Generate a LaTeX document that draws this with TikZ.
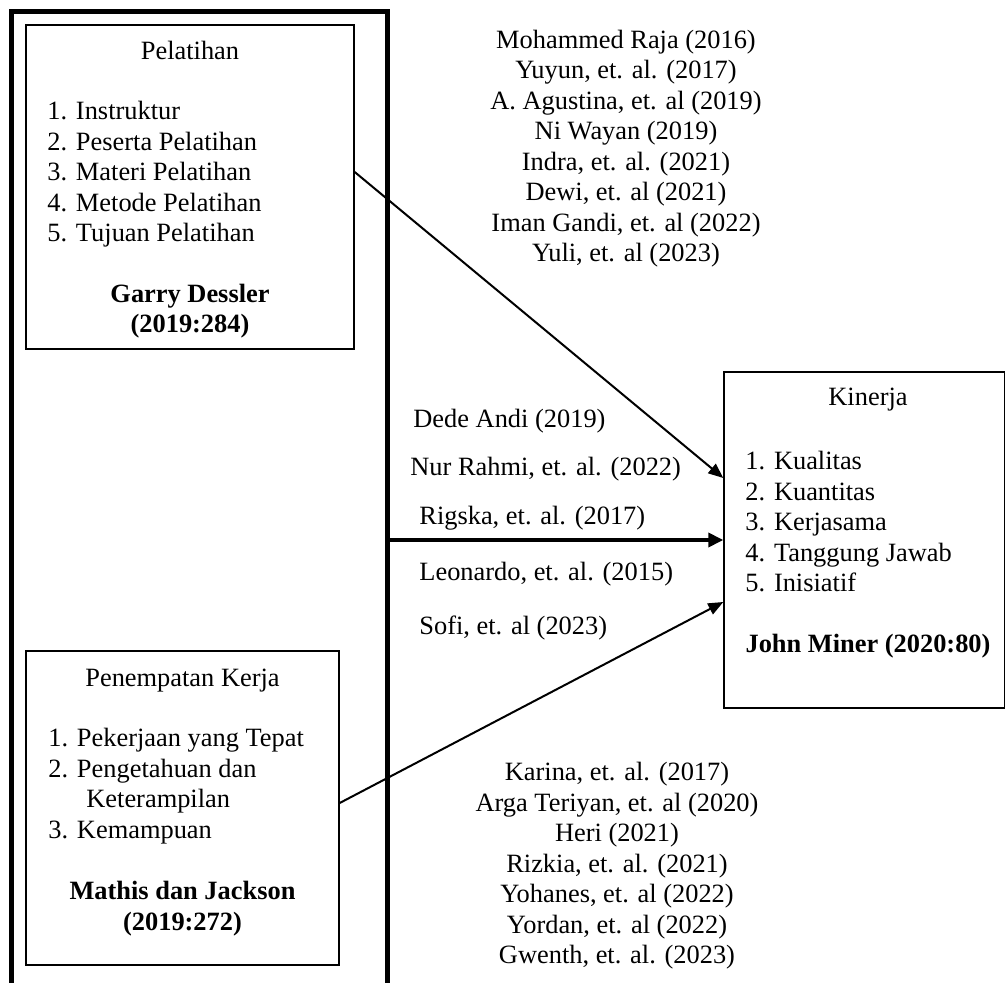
\documentclass[tikz,border=0pt]{standalone}
\usepackage{fontspec}
\setmainfont{Liberation Serif}
\usetikzlibrary{arrows.meta}
\tikzset{
  box/.style={draw, line width=0.7pt, inner sep=0pt},
  txt/.style={font=\fontsize{13.2}{15.25}\selectfont, inner sep=0pt, anchor=base},
  lst/.style={txt, anchor=base west, align=left},
  cite/.style={txt, align=center},
  hd/.style={txt, font=\fontsize{13.2}{15.25}\selectfont\bfseries, align=center},
  link/.style={-{Triangle[length=7.5pt,width=6pt]}, line width=1pt}
}
\begin{document}
\begin{tikzpicture}[x=0.5pt, y=-0.5pt]
      \useasboundingbox (0,0) rectangle (1006,983);
      \node[box, minimum width=164pt, minimum height=162pt] (pel) at (190,187) {};
      \node[box, minimum width=156.5pt, minimum height=157pt] (pen) at (182.5,808) {};
      \node[box, minimum width=140.25pt, minimum height=168pt] (kin) at (864.25,540) {};
      \draw[line width=2.5pt] (11,983) -- (11,12) -- (387,12) -- (387,983);
      \coordinate (grpE) at (387,540);
      \path
        (190,60) node[txt] (pelT) {Pelatihan}
        (47,242) node[lst] (pelL) {1. Instruktur\\2. Peserta Pelatihan\\3. Materi Pelatihan\\4. Metode Pelatihan\\5. Tujuan Pelatihan}
        (190,333) node[hd] (pelA) {Garry Dessler\\(2019:284)}
        (182.5,686) node[txt] (penT) {Penempatan Kerja}
        (48,838) node[lst] (penL) {1. Pekerjaan yang Tepat\\2. Pengetahuan dan\\\hspace*{19pt}Keterampilan\\3. Kemampuan}
        (182.5,930) node[hd] (penA) {Mathis dan Jackson\\(2019:272)}
        (868,406) node[txt] (kinT) {Kinerja}
        (745,591.5) node[lst] (kinL) {1. Kualitas\\2. Kuantitas\\3. Kerjasama\\4. Tanggung Jawab\\5. Inisiatif}
        (868,652) node[hd] (kinA) {John Miner (2020:80)};
      \path
        (626,262) node[cite] (refA) {Mohammed Raja (2016)\\Yuyun, et. al. (2017)\\A. Agustina, et. al (2019)\\Ni Wayan (2019)\\Indra, et. al. (2021)\\Dewi, et. al (2021)\\Iman Gandi, et. al (2022)\\Yuli, et. al (2023)}
        (617,963.5) node[cite] (refC) {Karina, et. al. (2017)\\Arga Teriyan, et. al (2020)\\Heri (2021)\\Rizkia, et. al. (2021)\\Yohanes, et. al (2022)\\Yordan, et. al (2022)\\Gwenth, et. al. (2023)}
        (413,427.5) node[txt, anchor=base west] (refB1) {Dede Andi (2019)}
        (410,475.5) node[txt, anchor=base west] (refB2) {Nur Rahmi, et. al. (2022)}
        (419,524.5) node[txt, anchor=base west] (refB3) {Rigska, et. al. (2017)}
        (419,580.5) node[txt, anchor=base west] (refB4) {Leonardo, et. al. (2015)}
        (419,634.5) node[txt, anchor=base west] (refB5) {Sofi, et. al (2023)};
      \begin{scope}[link]
        \draw ([yshift=7.5pt]pel.east) -- ([yshift=31pt]kin.west);
        \draw[line width=1.8pt, -{Triangle[length=7.5pt,width=7pt]}] (grpE) -- (kin.west);
        \draw ([yshift=2.5pt]pen.east) -- ([yshift=-31pt]kin.west);
      \end{scope}
    \end{tikzpicture}
\end{document}
